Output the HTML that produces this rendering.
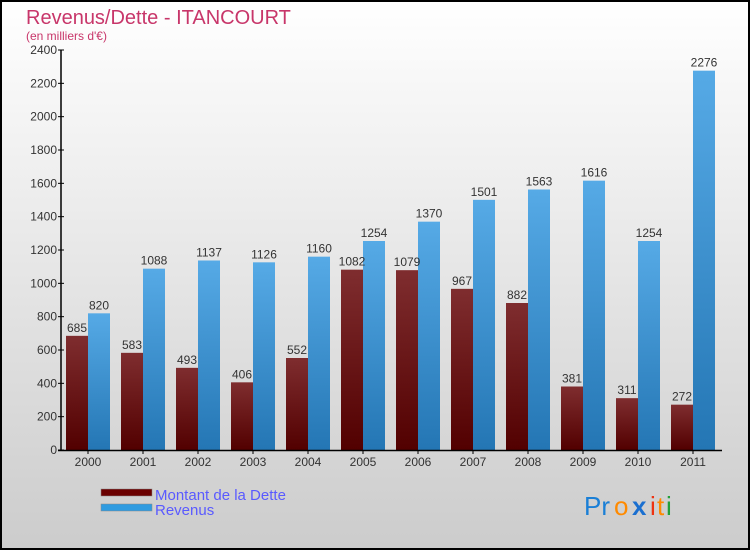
<!DOCTYPE html>
<html><head><meta charset="utf-8"><style>
html,body{margin:0;padding:0;}
body{width:750px;height:550px;overflow:hidden;font-family:"Liberation Sans",sans-serif;}
</style></head><body>
<svg id="chart" width="750" height="550" xmlns="http://www.w3.org/2000/svg" font-family="'Liberation Sans',sans-serif">
<defs>
<linearGradient id="bg" x1="0" y1="0" x2="0" y2="1"><stop offset="0" stop-color="#ffffff"/><stop offset="1" stop-color="#cccccc"/></linearGradient>
<linearGradient id="gd" x1="0" y1="0" x2="0" y2="1"><stop offset="0" stop-color="#7f2d2f"/><stop offset="1" stop-color="#520000"/></linearGradient>
<linearGradient id="gr" x1="0" y1="0" x2="0" y2="1"><stop offset="0" stop-color="#56aae6"/><stop offset="1" stop-color="#2476b4"/></linearGradient>
</defs>
<rect x="1" y="1" width="748" height="548" fill="url(#bg)" stroke="#000" stroke-width="2"/>
<text x="26" y="24" font-size="20" fill="#c8366a">Revenus/Dette - ITANCOURT</text>
<text x="26" y="40" font-size="12" fill="#c8366a">(en milliers d'€)</text>
<g id="bars"></g>
<g id="axes"></g>
<rect x="101" y="489" width="51" height="7" fill="#6a0000" stroke="#888" stroke-width="0.5"/>
<text x="155" y="500" font-size="15" fill="#5a5aff">Montant de la Dette</text>
<rect x="101" y="504" width="51" height="7" fill="#2f9be0" stroke="#888" stroke-width="0.5"/>
<text x="155" y="515" font-size="15" fill="#5a5aff">Revenus</text>
<g font-size="26" font-family="'Liberation Sans',sans-serif">
<text x="584" y="515" fill="#1a7fd6">Pr</text><text x="614" y="515" fill="#ff8a00">o</text><text x="632" y="515" fill="#1a6fd0" font-weight="bold">x</text><text x="650" y="515" fill="#ee3311">i</text><text x="657" y="515" fill="#ff8a00">t</text><text x="666" y="515" fill="#22a03a">i</text>
</g>
</svg>
<script>
const categories=["2000","2001","2002","2003","2004","2005","2006","2007","2008","2009","2010","2011"];
const dette=[685,583,493,406,552,1082,1079,967,882,381,311,272];
const revenus=[820,1088,1137,1126,1160,1254,1370,1501,1563,1616,1254,2276];
const yTicks=[0,200,400,600,800,1000,1200,1400,1600,1800,2000,2200,2400];
const NS="http://www.w3.org/2000/svg";
const x0=62,step=55,yBase=450,yTop=50,yMax=2400;
function y(v){return yBase-(v/yMax)*(yBase-yTop);}
function xc(i){return x0+step*i;}
function mk(tag,attrs,parent){const e=document.createElementNS(NS,tag);for(const k in attrs)e.setAttribute(k,attrs[k]);parent.appendChild(e);return e;}
const bars=document.getElementById('bars'),axes=document.getElementById('axes');
categories.forEach((c,i)=>{
  const d=dette[i],r=revenus[i];
  const b1=mk('rect',{x:xc(i)+4,y:y(d),width:22,height:yBase-y(d),fill:'url(#gd)'},bars);
  
  
  const b2=mk('rect',{x:xc(i)+26,y:y(r),width:22,height:yBase-y(r),fill:'url(#gr)'},bars);
  
  
  const t1=mk('text',{x:xc(i)+15,y:y(d)-4,'font-size':12,fill:'#333','text-anchor':'middle'},bars);t1.textContent=d;
  
  
  const t2=mk('text',{x:xc(i)+37,y:y(r)-4,'font-size':12,fill:'#333','text-anchor':'middle'},bars);t2.textContent=r;
  
  
  mk('line',{x1:xc(i)+26,x2:xc(i)+26,y1:yBase,y2:yBase+4,stroke:'#000'},axes);
  const tl=mk('text',{x:xc(i)+26,y:466,'font-size':12,fill:'#333','text-anchor':'middle'},axes);tl.textContent=c;
  
  
});
const ya=mk('line',{x1:61,x2:61,y1:yTop,y2:yBase+1,stroke:'#000','stroke-width':1.5},axes);


const xa=mk('line',{x1:58,x2:722,y1:yBase+0.5,y2:yBase+0.5,stroke:'#000','stroke-width':1.5},axes);


yTicks.forEach(v=>{
  mk('line',{x1:58,x2:64,y1:y(v),y2:y(v),stroke:'#000'},axes);
  const t=mk('text',{x:57,y:y(v)+4,'font-size':12,fill:'#333','text-anchor':'end'},axes);t.textContent=v;
  
  
});
</script>
</body></html>
